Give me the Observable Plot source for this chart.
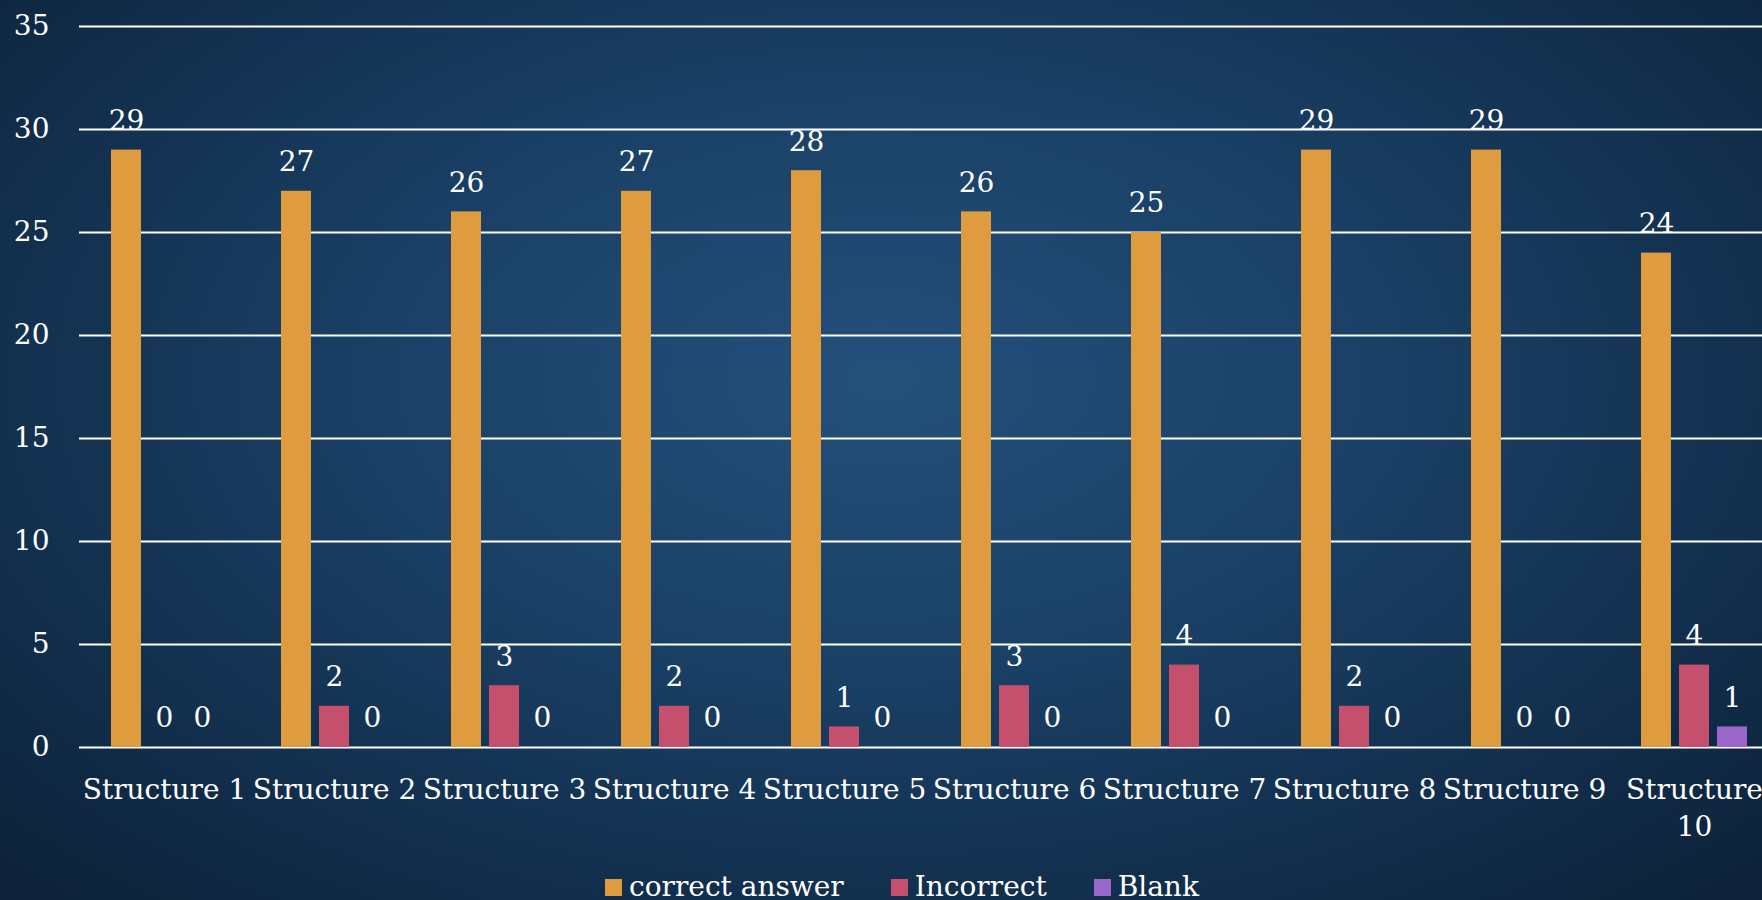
<!DOCTYPE html>
<html>
<head>
<meta charset="utf-8">
<script src="https://cdn.jsdelivr.net/npm/d3@7"></script>
<script src="https://cdn.jsdelivr.net/npm/@observablehq/plot@0.6"></script>
<style>
  html, body { margin: 0; padding: 0; }
  body {
    width: 1762px; height: 900px; overflow: hidden; position: relative;
    background: radial-gradient(ellipse 75% 85% at 50% 42%, #24507a 0%, #1a4066 38%, #112d4a 72%, #0c1f34 100%);
    font-family: 'DejaVu Serif', serif;
    color: white;
  }
  #chart { position: absolute; left: 0; top: 0; width: 1780px; }
  #chart svg { max-width: none !important; }
  #legend { position: absolute; left: 605px; top: 873px; display: flex; align-items: center; gap: 47px; font-size: 28px; line-height: 1; white-space: nowrap; }
  .item { display: flex; align-items: center; gap: 7px; }
  .sw { width: 17px; height: 17px; display: inline-block; }
</style>
</head>
<body>
<div id="chart"></div>
<div id="legend"></div>
<script>
const categories = ["Structure 1","Structure 2","Structure 3","Structure 4","Structure 5","Structure 6","Structure 7","Structure 8","Structure 9","Structure 10"];
const categoryLabels = ["Structure 1","Structure 2","Structure 3","Structure 4","Structure 5","Structure 6","Structure 7","Structure 8","Structure 9","Structure\n10"];
const seriesNames = ["correct answer","Incorrect","Blank"];
const correct   = [29,27,26,27,28,26,25,29,29,24];
const incorrect = [0,2,3,2,1,3,4,2,0,4];
const blank     = [0,0,0,0,0,0,0,0,0,1];
const colors = ["#df9c3f","#c5506e","#9b66c9"];
const yTicks = [0,5,10,15,20,25,30,35];

const values = [correct, incorrect, blank];
const data = [];
categories.forEach((c, i) => {
  seriesNames.forEach((s, j) => data.push({category: c, series: s, value: values[j][i]}));
});
const labelData = categories.map((c, i) => ({category: c, label: categoryLabels[i]}));

const chart = Plot.plot({
  width: 1780,
  height: 847,
  marginLeft: 79,
  marginRight: 1,
  marginTop: 26,
  marginBottom: 100,
  style: {background: "transparent", color: "white", fontFamily: "'DejaVu Serif', serif", fontSize: "28px", overflow: "visible", maxWidth: "none"},
  fx: {domain: categories, padding: 0, label: null, axis: null},
  x: {domain: seriesNames, paddingInner: 8/38, paddingOuter: 0.842, round: false, axis: null},
  y: {domain: [0, 35], ticks: yTicks, tickSize: 0, tickPadding: 30, label: null},
  color: {domain: seriesNames, range: colors},
  marks: [
    Plot.ruleY(yTicks, {stroke: "white", strokeWidth: 2}),
    Plot.barY(data, {fx: "category", x: "series", y: "value", fill: "series"}),
    Plot.text(data, {fx: "category", x: "series", y: "value", text: d => String(d.value), dy: -29, fill: "white", fontSize: 28}),
    Plot.text(labelData, {fx: "category", text: "label", frameAnchor: "bottom", lineAnchor: "top", dy: 25, lineHeight: 1.32, fill: "white", fontSize: 28})
  ]
});
document.getElementById("chart").appendChild(chart);

const legend = document.getElementById("legend");
seriesNames.forEach((s, j) => {
  const it = document.createElement("span");
  it.className = "item";
  const sw = document.createElement("span");
  sw.className = "sw";
  sw.style.background = colors[j];
  const t = document.createElement("span");
  t.textContent = s;
  it.appendChild(sw); it.appendChild(t);
  legend.appendChild(it);
});
</script>
</body>
</html>
